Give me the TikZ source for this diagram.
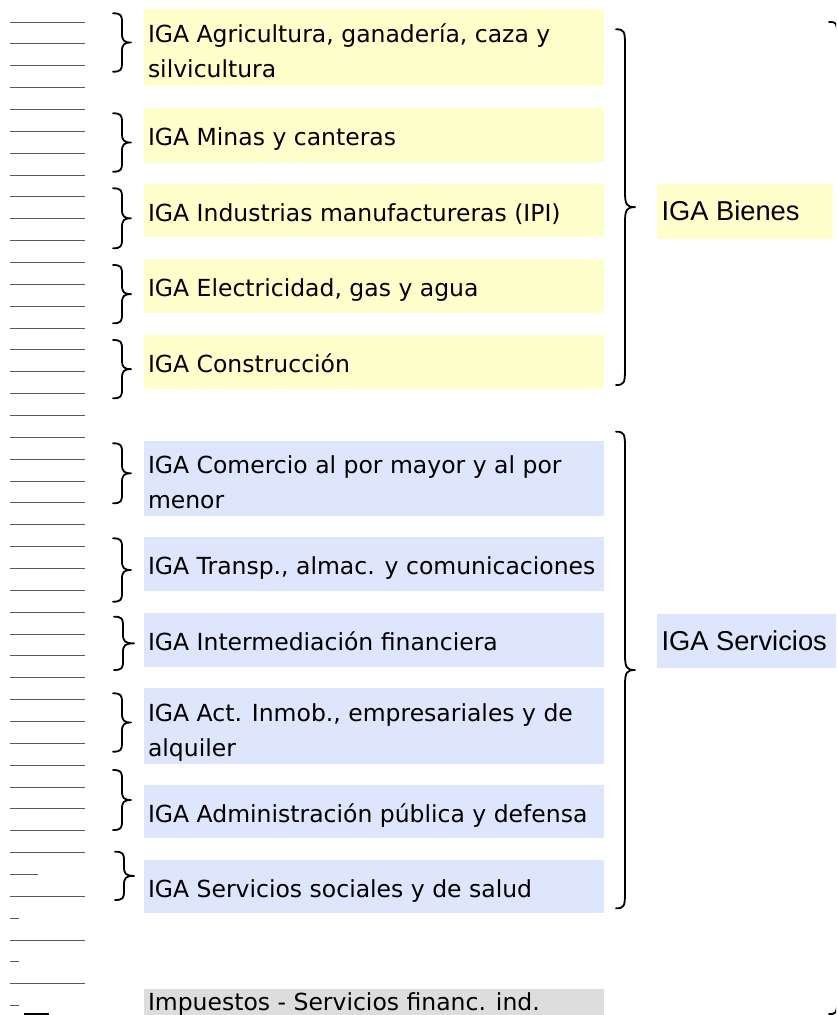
\documentclass[tikz,border=0pt]{standalone}
\usepackage{fontspec}
\setmainfont{DejaVu Sans}
\newfontfamily\labfont{Liberation Sans}
\definecolor{yfill}{RGB}{255,255,204}
\definecolor{bfill}{RGB}{221,230,252}
\definecolor{gfill}{RGB}{221,221,221}
\definecolor{lncol}{RGB}{90,90,90}
\tikzset{
  sbox/.style={anchor=north west, inner sep=0pt, outer sep=0pt, draw=none, minimum width=460.5pt},
  ybox/.style={sbox, fill=yfill},
  bbox/.style={sbox, fill=bfill},
  gbox/.style={sbox, fill=gfill},
  txt/.style={anchor=base west, inner sep=0pt, outer sep=0pt, text=black, font=\fontsize{23.5}{35}\selectfont},
  labtxt/.style={anchor=base west, inner sep=0pt, outer sep=0pt, text=black, font=\labfont\fontsize{27.3}{30}\selectfont},
  brc/.style={draw=black, line width=1.8pt, line cap=round, line join=round},
  ln/.style={draw=lncol, line width=1pt}
}
% right-facing brace: x0 (hook end), xm (stroke), x1 (tip), ytop, ybot, r
\newcommand\rbrc[6]{%
  \pgfmathsetmacro\bym{(#4+#5)/2}%
  \draw[brc] (#1,#4) .. controls ({#2-1},#4) and (#2,{#4+2}) .. (#2,{#4+#6})
    -- (#2,{\bym-#6}) .. controls (#2,{\bym-2}) and ({#2+2},\bym) .. (#3,\bym)
    .. controls ({#2+2},\bym) and (#2,{\bym+2}) .. (#2,{\bym+#6})
    -- (#2,{#5-#6}) .. controls (#2,{#5-2}) and ({#2-1},#5) .. (#1,#5);}
\begin{document}
\begin{tikzpicture}[x=1pt,y=-1pt]
\useasboundingbox (0,0) rectangle (836,1015);
\clip (0,0) rectangle (836,1015);
% left ruled lines
\foreach \k in {0,...,38,40,42,44} {\draw[ln] (10,{22+21.86*\k}) -- (85,{22+21.86*\k});}
\draw[ln] (10,{22+21.86*39}) -- (38,{22+21.86*39});
\foreach \k in {41,43,45} {\draw[ln] (10,{22+21.86*\k}) -- (19,{22+21.86*\k});}
\draw[draw=black, line width=2pt] (24,1013.5) -- (49,1013.5);

% boxes
\node[ybox, minimum height=76.4pt] (b1) at (143.5,9.3) {};
\node[ybox, minimum height=54pt] (b2) at (143.5,107.7) {};
\node[ybox, minimum height=52.7pt] (b3) at (143.5,184) {};
\node[ybox, minimum height=53.4pt] (b4) at (143.5,259.3) {};
\node[ybox, minimum height=54.3pt] (b5) at (143.5,335) {};
\node[bbox, minimum height=75.3pt] (b6) at (143.5,440.7) {};
\node[bbox, minimum height=53.4pt] (b7) at (143.5,537.3) {};
\node[bbox, minimum height=53.4pt] (b8) at (143.5,613.3) {};
\node[bbox, minimum height=75.7pt] (b9) at (143.5,688.3) {};
\node[bbox, minimum height=53.3pt] (b10) at (143.5,785) {};
\node[bbox, minimum height=53.3pt] (b11) at (143.5,860) {};
\node[gbox, minimum height=54pt] (b12) at (143.5,989) {};

% texts
\node[txt] (t1a) at (148,42) {IGA Agricultura, ganadería, caza y};
\node[txt] (t1b) at (148,77) {silvicultura};
\node[txt] (t2) at (148,145.5) {IGA Minas y canteras};
\node[txt] (t3) at (148,221) {IGA Industrias manufactureras (IPI)};
\node[txt] (t4) at (148,296.8) {IGA Electricidad, gas y agua};
\node[txt] (t5) at (148,372.5) {IGA Construcción};
\node[txt] (t6a) at (148,473.5) {IGA Comercio al por mayor y al por};
\node[txt] (t6b) at (148,508.5) {menor};
\node[txt] (t7) at (148,574.6) {IGA Transp., almac. y comunicaciones};
\node[txt] (t8) at (148,650.4) {IGA Intermediación financiera};
\node[txt] (t9a) at (148,721.2) {IGA Act. Inmob., empresariales y de};
\node[txt] (t9b) at (148,756.2) {alquiler};
\node[txt] (t10) at (148,822.2) {IGA Administración pública y defensa};
\node[txt] (t11) at (148,897) {IGA Servicios sociales y de salud};
\node[txt] (t12) at (148,1010) {Impuestos - Servicios financ. ind.};

% group labels
\node[anchor=north west, inner sep=0pt, fill=yfill, minimum width=176pt, minimum height=55pt] (lb) at (657,183.3) {};
\node[labtxt] (lbt) at (661.5,220.5) {IGA Bienes};
\node[anchor=north west, inner sep=0pt, fill=bfill, minimum width=180pt, minimum height=54pt] (ls) at (657,613.3) {};
\node[labtxt] (lst) at (661.5,650) {IGA Servicios};

% small braces
\rbrc{113}{122}{131}{13.3}{71.7}{9}
\rbrc{113}{122}{131}{113.3}{171.7}{9}
\rbrc{113}{122}{131}{188.3}{248.3}{9}
\rbrc{113}{122}{131}{265}{323.3}{9}
\rbrc{113}{122}{131}{340}{398.3}{9}
\rbrc{113}{122}{131}{443.3}{503.3}{9}
\rbrc{113}{122}{131}{538.3}{601.7}{9}
\rbrc{114}{123}{134}{616.7}{670}{9}
\rbrc{113}{122}{131}{693.3}{751.7}{9}
\rbrc{113}{122}{131}{770}{830}{9}
\rbrc{115}{124}{134}{851.7}{900}{9}

% big braces
\rbrc{616}{625}{635}{29.3}{385}{15}
\rbrc{616}{625}{635}{431.7}{908.3}{15}
% partial brace at right edge
\draw[brc] (829,22) .. controls (836,22) .. (838,34);
\draw[brc] (829,1014) .. controls (836,1014) .. (838,1001);
\end{tikzpicture}
\end{document}
